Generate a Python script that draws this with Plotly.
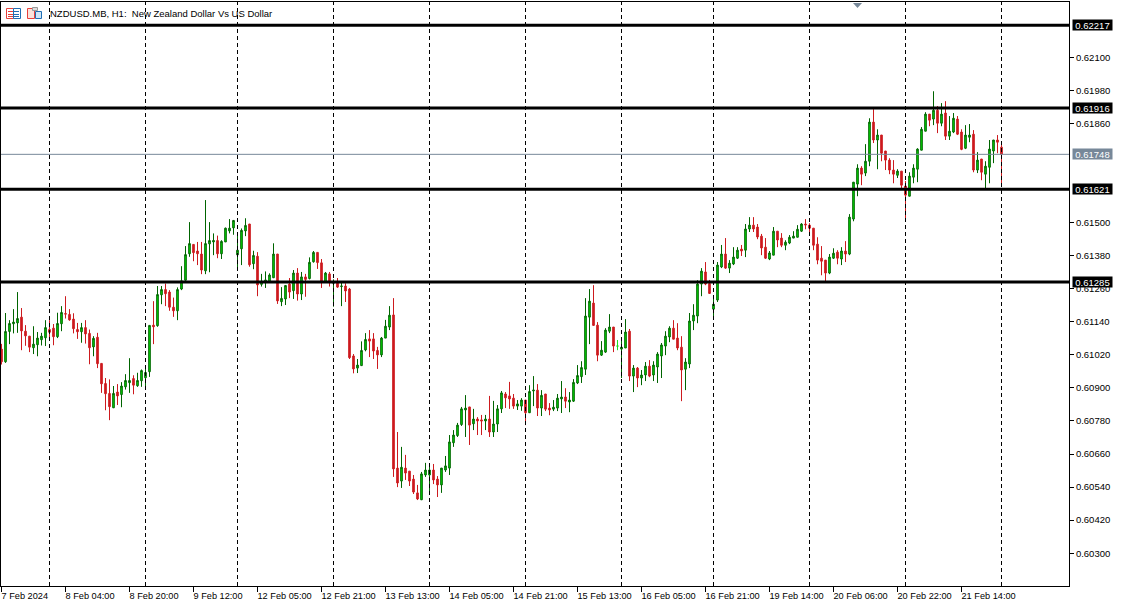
import plotly.graph_objects as go

# Prices are held in points (1 point = 0.00001)
opens = [
61041,60995,61105,61133,61136,61157,61106,61088,61046,61057,61075,61082,61112,61117,61086,61133,
61170,61167,61150,61112,61104,61119,61098,61049,61084,60989,60916,60880,60828,60885,60876,60904,
60919,60934,60908,60926,60937,60959,61128,61126,61238,61257,61248,61193,61180,61259,61291,61387,
61421,61397,61386,61325,61423,61430,61435,61387,61430,61470,61481,61383,61405,61470,61495,61351,
61378,61276,61282,61286,61300,61386,61213,61223,61277,61253,61317,61241,61303,61297,61358,61392,
61354,61286,61314,61280,61282,61268,61270,61259,61016,60972,60981,61038,61078,61078,61036,61020,
61081,61121,61165,60609,60562,60609,60598,60569,60519,60494,60584,60584,60602,60569,60548,60602,
60609,60701,60727,60767,60820,60831,60770,60787,60784,60780,60787,60740,60769,60824,60878,60871,
60863,60834,60834,60856,60810,60889,60892,60827,60878,60827,60823,60827,60860,60867,60849,60852,
60918,60941,60968,61157,61208,61128,61019,61030,61106,61121,61052,61041,61045,61106,60943,60972,
60936,60947,60979,60947,60976,61016,61052,61085,61117,61081,61048,60968,60987,61143,61161,61277,
61321,61279,61186,61219,61339,61386,61335,61350,61371,61404,61400,61477,61491,61484,61451,61411,
61368,61382,61469,61444,61418,61426,61444,61447,61469,61495,61491,61480,61422,61371,61364,61317,
61371,61393,61368,61397,61386,61513,61640,61698,61680,61723,61865,61800,61818,61760,61727,61691,
61672,61687,61633,61596,61665,61694,61763,61832,61894,61876,61908,61861,61898,61814,61829,61876,
61829,61770,61810,61821,61691,61731,61676,61701,61760,61800,61774]
highs = [
61060,61172,61146,61186,61248,61190,61128,61088,61124,61103,61100,61146,61146,61132,61173,61197,
61233,61186,61171,61136,61136,61146,61112,61088,61100,60989,60936,60931,60907,60914,60921,60950,
61008,60946,60955,60967,60969,61127,61215,61270,61270,61279,61255,61228,61265,61342,61415,61502,
61421,61430,61430,61582,61502,61461,61453,61436,61482,61513,61509,61463,61479,61516,61495,61398,
61393,61314,61323,61316,61425,61386,61266,61272,61299,61328,61335,61321,61314,61374,61397,61392,
61368,61321,61321,61294,61299,61282,61280,61263,61023,61005,61069,61099,61110,61099,61049,61085,
61147,61197,61226,60740,60686,60657,60598,60584,60548,60595,60628,60614,60624,60580,60609,60653,
60729,60747,60773,60831,60874,60831,60824,60794,60802,60802,60871,60853,60838,60889,60885,60922,
60878,60856,60863,60856,60910,60943,60914,60892,60878,60845,60856,60878,60925,60899,60885,60932,
60983,60997,61226,61259,61273,61139,61070,61117,61168,61121,61074,61074,61150,61114,60983,60976,
60965,60994,61001,60997,61030,61063,61106,61124,61146,61135,61088,61008,61172,61204,61291,61335,
61357,61292,61237,61357,61419,61444,61364,61411,61411,61419,61495,61520,61520,61495,61459,61444,
61397,61484,61469,61462,61436,61455,61469,61491,61498,61513,61498,61480,61447,61415,61364,61386,
61407,61400,61411,61433,61531,61647,61712,61705,61785,61879,61912,61839,61818,61760,61734,61727,
61694,61687,61651,61683,61712,61770,61847,61901,61894,61977,61923,61934,61941,61887,61898,61887,
61839,61854,61858,61836,61756,61731,61723,61800,61800,61818,61785]
lows = [
60985,60991,61059,61098,61100,61037,61053,61030,61023,61015,61054,61052,61071,61055,61081,61106,
61152,61144,61098,61078,61064,61061,60986,61015,60972,60882,60819,60783,60827,60838,60830,60894,
60882,60877,60904,60904,60897,60940,61059,61122,61204,61197,61180,61158,61146,61255,61289,61376,
61360,61346,61313,61313,61320,61382,61371,61368,61430,61461,61456,61328,61346,61451,61340,61331,
61233,61268,61263,61282,61299,61205,61197,61201,61226,61223,61217,61219,61231,61294,61355,61332,
61263,61282,61268,61195,61263,61197,61212,61005,60953,60954,60980,61033,61012,61005,60969,61012,
61081,61110,60577,60540,60537,60566,60544,60515,60493,60493,60577,60519,60551,60504,60519,60595,
60584,60686,60722,60762,60722,60693,60747,60729,60729,60747,60722,60722,60740,60809,60827,60824,
60824,60820,60817,60765,60809,60834,60798,60798,60816,60801,60816,60816,60809,60827,60812,60849,
60914,60918,60947,61059,61125,60997,61016,61027,61099,61030,61037,60936,61045,60925,60885,60903,
60910,60925,60939,60925,60918,60936,61019,61066,61077,61037,60852,60892,60972,61110,61135,61233,
61273,61241,61158,61212,61335,61332,61317,61346,61368,61379,61375,61466,61466,61440,61382,61368,
61364,61382,61411,61411,61400,61422,61444,61447,61466,61476,61455,61400,61349,61309,61288,61313,
61368,61349,61346,61357,61382,61505,61596,61636,61669,61705,61789,61694,61723,61691,61676,61643,
61662,61625,61513,61596,61643,61647,61763,61832,61850,61854,61825,61850,61800,61800,61825,61818,
61763,61767,61792,61683,61680,61654,61624,61643,61716,61752,61636]
closes = [
60995,61105,61134,61139,61152,61107,61089,61048,61059,61081,61088,61119,61102,61086,61134,61174,
61168,61147,61115,61104,61119,61096,61046,61080,60988,60915,60879,60832,60880,60871,60907,60927,
60927,60910,60927,60963,60956,61127,61122,61239,61257,61242,61193,61180,61257,61289,61384,61424,
61391,61387,61328,61424,61435,61435,61387,61432,61480,61480,61508,61400,61472,61490,61347,61381,
61274,61287,61292,61310,61386,61216,61225,61272,61248,61317,61241,61303,61294,61356,61392,61355,
61286,61317,61282,61285,61266,61270,61252,61010,60969,60983,61036,61076,61070,61034,61020,61081,
61124,61164,60606,60555,60612,60591,60562,60522,60497,60588,60602,60602,60566,60548,60609,60617,
60704,60729,60765,60824,60827,60765,60787,60780,60780,60787,60740,60769,60824,60882,60864,60860,
60834,60842,60856,60810,60887,60892,60827,60873,60823,60820,60830,60863,60867,60852,60856,60920,
60945,60974,61161,61215,61127,61019,61037,61110,61121,61052,61052,61048,61103,60943,60972,60936,
60947,60979,60943,60983,61023,61056,61088,61117,61077,61045,60965,60994,61143,61164,61277,61324,
61277,61243,61204,61346,61386,61335,61353,61375,61400,61397,61477,61491,61477,61448,61408,61371,
61390,61469,61437,61418,61429,61447,61451,61476,61495,61492,61480,61418,61364,61360,61317,61375,
61389,61371,61397,61386,61520,61647,61698,61676,61723,61865,61800,61818,61752,61727,61691,61676,
61687,61636,61600,61669,61698,61767,61839,61894,61872,61908,61861,61894,61814,61832,61879,61821,
61766,61818,61818,61691,61727,61683,61705,61767,61800,61792,61748]

bars = list(range(len(opens)))
doji_bars = [154]
level_prices = [0.62217, 0.61916, 0.61621, 0.61285]
level_labels = ["0.62217", "0.61916", "0.61621", "0.61285"]
last_price = 0.61748
period_bars = [12, 36, 59, 83, 107, 131, 155, 178, 202, 226, 250]
time_tick_bars = [0, 16, 32, 48, 64, 80, 96, 112, 128, 144, 160, 176, 192, 208, 224, 240]
time_tick_labels = ["7 Feb 2024", "8 Feb 04:00", "8 Feb 20:00", "9 Feb 12:00", "12 Feb 05:00",
                    "12 Feb 21:00", "13 Feb 13:00", "14 Feb 05:00", "14 Feb 21:00", "15 Feb 13:00",
                    "16 Feb 05:00", "16 Feb 21:00", "19 Feb 14:00", "20 Feb 06:00", "20 Feb 22:00",
                    "21 Feb 14:00"]
price_ticks = [0.62100, 0.61980, 0.61860, 0.61500, 0.61380, 0.61260, 0.61140,
               0.61020, 0.60900, 0.60780, 0.60660, 0.60540, 0.60420, 0.60300]
title_text = "NZDUSD.MB, H1:  New Zealand Dollar Vs US Dollar"

FONT = "Liberation Sans"
W, H = 1123, 605
L, R, T, B = 1, 1069, 2, 586
FIRST_BAR_PX, BAR_STEP_PX = 1.5, 4
px = lambda x: (x - L) / (R - L)
py = lambda y: (B - y) / (B - T)

main = [i for i in bars if i not in doji_bars]
pick = lambda a, idx: [a[i] / 100000 for i in idx]

fig = go.Figure()
fig.add_trace(go.Candlestick(
    x=main, open=pick(opens, main), high=pick(highs, main), low=pick(lows, main), close=pick(closes, main),
    increasing=dict(line=dict(color="#006400", width=1), fillcolor="#00e600"),
    decreasing=dict(line=dict(color="#cd1a1e", width=1), fillcolor="#cd1a1e"),
    whiskerwidth=0, showlegend=False, hoverinfo="skip"))
fig.add_trace(go.Candlestick(
    x=doji_bars, open=pick(opens, doji_bars), high=pick(highs, doji_bars), low=pick(lows, doji_bars),
    close=pick(closes, doji_bars),
    increasing=dict(line=dict(color="#22dd22", width=1), fillcolor="#22dd22"),
    decreasing=dict(line=dict(color="#22dd22", width=1), fillcolor="#22dd22"),
    whiskerwidth=0, showlegend=False, hoverinfo="skip"))

shapes = []
for b in period_bars:
    shapes.append(dict(type="line", xref="x", yref="paper", x0=b, x1=b, y0=0, y1=1, layer="above",
                       line=dict(color="black", width=1, dash="4px,3px")))
shapes.append(dict(type="line", xref="paper", yref="y", x0=0, x1=1, y0=last_price, y1=last_price,
                   layer="above", line=dict(color="#778899", width=1)))
for p in level_prices:
    shapes.append(dict(type="line", xref="paper", yref="y", x0=0, x1=1, y0=p, y1=p, layer="above",
                       line=dict(color="black", width=3)))

def rect(x0, y0, x1, y1, color, fill=None):
    return dict(type="rect", xref="paper", yref="paper", x0=px(x0), x1=px(x1), y0=py(y1), y1=py(y0),
                layer="above", line=dict(color=color, width=1), fillcolor=fill or "rgba(0,0,0,0)")

def seg(x0, y0, x1, y1, color):
    return dict(type="line", xref="paper", yref="paper", x0=px(x0), x1=px(x1), y0=py(y0), y1=py(y1),
                layer="above", line=dict(color=color, width=1))

# header icons
shapes += [rect(6.5, 8.5, 13.5, 18.5, "#e8403a", "#ffffff"), rect(13.5, 8.5, 20.5, 18.5, "#1f6fb5", "#ffffff")]
for y in (11.5, 14.5, 16.5):
    shapes += [seg(8, y, 13, y, "#e8403a"), seg(14, y, 19, y, "#1f6fb5")]
shapes += [rect(27.5, 8.5, 34.5, 18.5, "#e8403a", "#fbe3dc"), rect(35.5, 11.5, 41.5, 18.5, "#1f6fb5", "#cfe6f7"),
           rect(32.5, 7.5, 37.5, 10.5, "#999999", "#dddddd")]
# top marker triangle
ax, bx, mx = px(853), px(862), px(857.5)
shapes.append(dict(type="path", xref="paper", yref="paper", layer="above", line=dict(width=0),
                   fillcolor="#778899", path=f"M {ax} {py(3)} L {bx} {py(3)} L {mx} {py(8)} Z"))

annotations = [dict(text=title_text, xref="paper", yref="paper", x=px(48), y=py(13), xanchor="left",
                    yanchor="middle", showarrow=False, font=dict(family=FONT, size=9.5, color="#000000"))]
for p, t in zip(level_prices + [last_price], level_labels + ["0.61748"]):
    annotations.append(dict(text=t, xref="paper", yref="y", x=px(1072), y=p, xanchor="left", yanchor="middle",
                            showarrow=False, width=39, height=10, borderpad=0, align="center",
                            bgcolor="#778899" if p == last_price else "black",
                            font=dict(family=FONT, size=9.5, color="white")))

fig.update_layout(
    width=W, height=H, autosize=False, margin=dict(l=L, r=W - R, t=T, b=H - B, pad=0),
    paper_bgcolor="white", plot_bgcolor="white", boxgap=0.42, showlegend=False,
    font=dict(family=FONT, size=9.5, color="#000000"),
    shapes=shapes, annotations=annotations,
    xaxis=dict(range=[(L - FIRST_BAR_PX) / BAR_STEP_PX, (R - FIRST_BAR_PX) / BAR_STEP_PX],
               rangeslider=dict(visible=False), showgrid=False,
               zeroline=False, showline=True, mirror=True, linecolor="black", linewidth=1,
               tickmode="array", tickvals=time_tick_bars, ticktext=time_tick_labels,
               ticks="outside", ticklen=5, tickwidth=1, tickcolor="black", tickangle=0,
               ticklabelposition="outside right", ticklabelshift=-1, ticklabelstandoff=1,
               tickfont=dict(family=FONT, size=9.2, color="#000000")),
    yaxis=dict(range=[0.60181, 0.62301], side="right", showgrid=False, zeroline=False, showline=True,
               mirror=True, linecolor="black", linewidth=1, tickmode="array", tickvals=price_ticks,
               ticktext=[f"{v:.5f}" for v in price_ticks], ticks="outside", ticklen=4, tickwidth=1,
               tickcolor="black", tickfont=dict(family=FONT, size=9.5, color="#000000")),
)
fig.write_html("out.html", config=dict(displayModeBar=False),
               post_script="document.body.style.margin='0';document.documentElement.style.overflow='hidden';")
